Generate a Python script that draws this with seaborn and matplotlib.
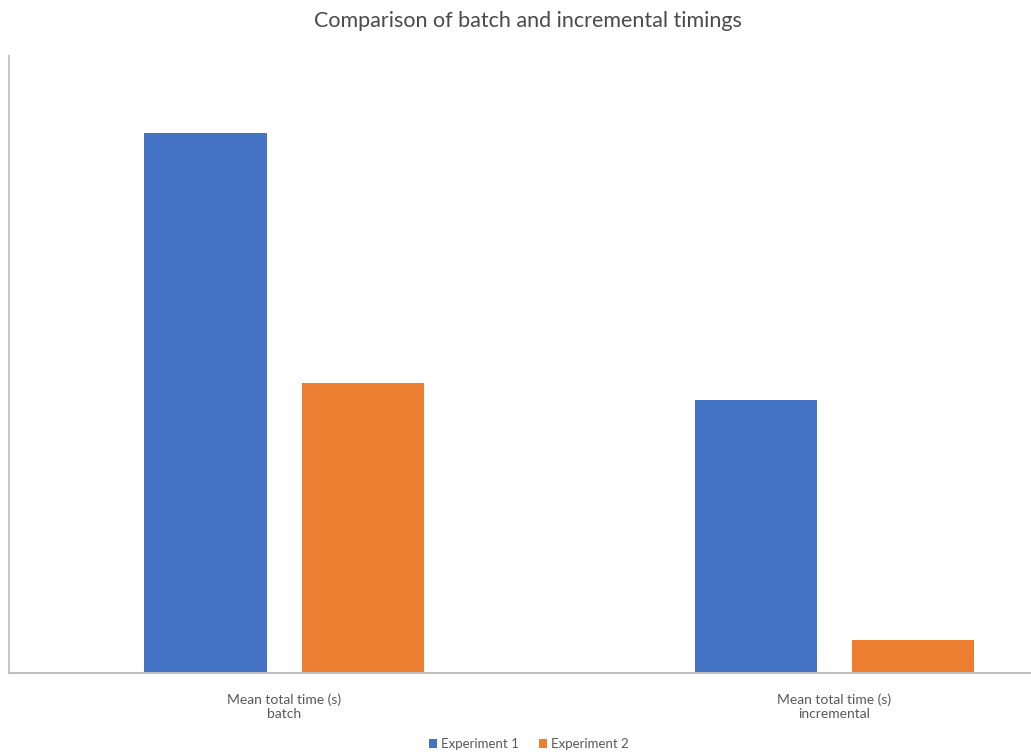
import matplotlib
matplotlib.use("Agg")
import matplotlib.pyplot as plt
import seaborn as sns
import pandas as pd
from matplotlib.patches import Patch

categories = ["Mean total time (s)\nbatch", "Mean total time (s)\nincremental"]
series_names = ["Experiment 1", "Experiment 2"]
experiment_1 = [54.0, 27.3]
experiment_2 = [29.0, 3.3]

colors = ["#4472C4", "#ED7D31"]
text_color = "#595959"

sns.set_theme(style="white")
plt.rcParams["font.family"] = ["Lato", "DejaVu Sans"]

df = pd.DataFrame({
    "category": categories * 2,
    "series": [series_names[0]] * 2 + [series_names[1]] * 2,
    "value": experiment_1 + experiment_2,
})

fig = plt.figure(figsize=(10.31, 7.53), dpi=100)
ax = fig.add_axes([0.0087, 0.1062, 0.9913, 0.8194])

sns.barplot(data=df, x="category", y="value", hue="series",
            palette=colors, width=0.571, gap=0.222, ax=ax,
            legend=False, saturation=1, edgecolor="none")

ax.set_xlim(-0.5, 1.357)
ax.set_ylim(0, 61.7)
ax.set_xlabel("")
ax.set_ylabel("")
ax.set_yticks([])
ax.tick_params(axis="x", length=0, pad=15, labelsize=10, colors=text_color)
for lbl in ax.get_xticklabels():
    lbl.set_linespacing(1.2)

for side in ["top", "right"]:
    ax.spines[side].set_visible(False)
ax.spines["left"].set_color("#C8C8C8")
ax.spines["left"].set_linewidth(1.5)
ax.spines["bottom"].set_color("#BFBFBF")
ax.spines["bottom"].set_linewidth(1.5)

fig.text(0.512, 0.972, "Comparison of batch and incremental timings",
         ha="center", va="center", fontsize=15.5, color="#4a4a4a")

handles = [Patch(facecolor=c, edgecolor="none") for c in colors]
fig.legend(handles, series_names, loc="center", bbox_to_anchor=(0.513, 0.012),
           ncol=2, frameon=False, fontsize=9.5, labelcolor=text_color,
           handlelength=0.6, handleheight=0.6, handletextpad=0.3,
           columnspacing=1.5)

fig.savefig("out.png", dpi=100, facecolor="white")
